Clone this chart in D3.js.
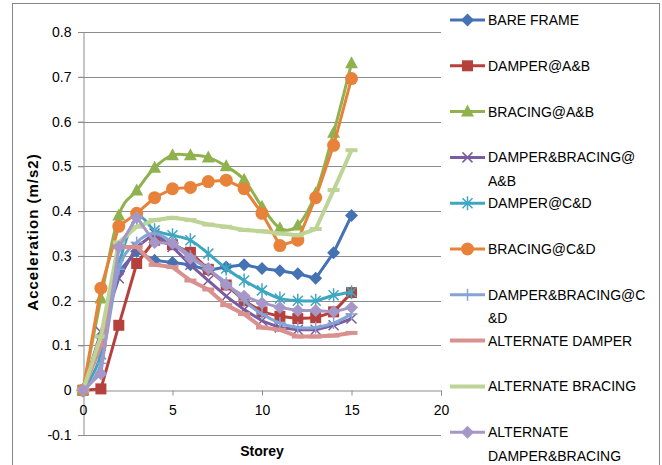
<!DOCTYPE html>
<html>
<head>
<meta charset="utf-8">
<script src="https://cdn.jsdelivr.net/npm/d3@7"></script>
<style>
  body { margin: 0; background: #fff; }
  svg text { font-family: "Liberation Sans", Arial, sans-serif; fill: #000; }
</style>
</head>
<body>
<div id="chart"></div>
<script>
// storeys 0..15
var storeys = d3.range(0, 16);

var bareFrame        = [0, 0.12, 0.265, 0.31, 0.29, 0.285, 0.28, 0.268, 0.275, 0.28, 0.272, 0.267, 0.26, 0.25, 0.307, 0.39];
var damperAB         = [0, 0.003, 0.145, 0.283, 0.335, 0.325, 0.308, 0.27, 0.235, 0.2, 0.175, 0.165, 0.16, 0.162, 0.175, 0.218];
var bracingAB        = [0, 0.205, 0.39, 0.446, 0.497, 0.525, 0.525, 0.52, 0.5, 0.47, 0.41, 0.362, 0.368, 0.44, 0.575, 0.73];
var damperBracingAB  = [0, 0.13, 0.25, 0.32, 0.35, 0.32, 0.28, 0.245, 0.21, 0.18, 0.155, 0.14, 0.135, 0.135, 0.145, 0.16];
var damperCD         = [0, 0.08, 0.28, 0.385, 0.357, 0.346, 0.335, 0.305, 0.272, 0.245, 0.223, 0.205, 0.2, 0.2, 0.212, 0.219];
var bracingCD        = [0, 0.228, 0.366, 0.395, 0.43, 0.45, 0.453, 0.466, 0.469, 0.45, 0.395, 0.323, 0.335, 0.43, 0.547, 0.696];
var damperBracingCD  = [0, 0.06, 0.27, 0.33, 0.35, 0.33, 0.3, 0.27, 0.24, 0.2, 0.17, 0.15, 0.14, 0.14, 0.15, 0.17];
var altDamper        = [0, 0.1, 0.32, 0.32, 0.28, 0.275, 0.245, 0.225, 0.19, 0.17, 0.14, 0.135, 0.12, 0.12, 0.122, 0.128];
var altBracing       = [0, 0.12, 0.33, 0.365, 0.38, 0.385, 0.38, 0.37, 0.365, 0.358, 0.355, 0.35, 0.346, 0.36, 0.447, 0.536];
var altDamperBracing = [0, 0.037, 0.32, 0.386, 0.33, 0.328, 0.295, 0.272, 0.235, 0.21, 0.195, 0.185, 0.178, 0.178, 0.175, 0.185];

var xTicks = [0, 5, 10, 15, 20];
var yTicks = [-0.1, 0, 0.1, 0.2, 0.3, 0.4, 0.5, 0.6, 0.7, 0.8];
var yTickLabels = ["-0.1", "0", "0.1", "0.2", "0.3", "0.4", "0.5", "0.6", "0.7", "0.8"];

var series = [
    {name: ["BARE FRAME"], values: bareFrame, color: "#4572b3", marker: "diamond", smooth: false},
    {name: ["DAMPER@A&B"], values: damperAB, color: "#b5403c", marker: "square", smooth: false},
    {name: ["BRACING@A&B"], values: bracingAB, color: "#8fb24f", marker: "triangle", smooth: true},
    {name: ["DAMPER&BRACING@", "A&B"], values: damperBracingAB, color: "#7a5ca0", marker: "x", smooth: false},
    {name: ["DAMPER@C&D"], values: damperCD, color: "#3ea6c0", marker: "star", smooth: true},
    {name: ["BRACING@C&D"], values: bracingCD, color: "#e8823a", marker: "circle", smooth: false},
    {name: ["DAMPER&BRACING@C", "&D"], values: damperBracingCD, color: "#85a3d4", marker: "plus", smooth: true},
    {name: ["ALTERNATE DAMPER"], values: altDamper, color: "#d8918e", marker: "dash", smooth: false, width: 4},
    {name: ["ALTERNATE BRACING"], values: altBracing, color: "#bdd496", marker: "dash", smooth: false, width: 4},
    {name: ["ALTERNATE", "DAMPER&BRACING"], values: altDamperBracing, color: "#a597c8", marker: "diamond", smooth: false}
];

var svg = d3.select("#chart").append("svg")
    .attr("width", 662)
    .attr("height", 465);

// chart frame
svg.append("rect")
    .attr("x", 12.5).attr("y", 3.5)
    .attr("width", 647).attr("height", 480)
    .attr("fill", "none")
    .attr("stroke", "#868686")
    .attr("stroke-width", 1);

var x = d3.scaleLinear().domain([0, 20]).range([83, 441]);
var y = d3.scaleLinear().domain([-0.1, 0.8]).range([435, 32]);

// gridlines
svg.append("g").selectAll("line")
    .data(yTicks.filter(function(d) { return d != 0; }))
    .enter().append("line")
    .attr("x1", 78).attr("x2", 441)
    .attr("y1", function(d) { return Math.round(y(d)) + 0.5; })
    .attr("y2", function(d) { return Math.round(y(d)) + 0.5; })
    .attr("stroke", "#8c8c8c")
    .attr("stroke-width", 1);

// y axis
var yAxis = d3.axisLeft(y).tickValues(yTicks).tickSize(5).tickPadding(7)
    .tickFormat(function(d, i) { return yTickLabels[i]; });
var gy = svg.append("g").attr("transform", "translate(83.5,0)").call(yAxis);
gy.select(".domain").attr("stroke", "#8c8c8c");
gy.selectAll(".tick line").attr("stroke", "#8c8c8c");
gy.selectAll(".tick text").style("font-size", "14px");

// x axis at y = 0
var xAxis = d3.axisBottom(x).tickValues(xTicks).tickSize(5).tickPadding(10);
var gx = svg.append("g").attr("transform", "translate(0," + (Math.round(y(0)) + 0.5) + ")").call(xAxis);
gx.select(".domain").attr("stroke", "#8c8c8c");
gx.selectAll(".tick line").attr("stroke", "#8c8c8c");
gx.selectAll(".tick text").style("font-size", "14px");

// axis titles
svg.append("text")
    .attr("x", 262).attr("y", 456)
    .attr("text-anchor", "middle")
    .style("font-size", "14px").style("font-weight", "bold")
    .text("Storey");
svg.append("text")
    .attr("transform", "translate(38,232) rotate(-90)")
    .attr("text-anchor", "middle")
    .style("font-size", "15px").style("font-weight", "bold")
    .style("letter-spacing", "1px")
    .text("Acceleration (m/s2)");

// marker drawing
function drawMarker(g, type, color) {
    if (type == "diamond") {
        g.append("path").attr("d", "M0,-6.5L6.5,0L0,6.5L-6.5,0Z").attr("fill", color);
    } else if (type == "square") {
        g.append("rect").attr("x", -5.5).attr("y", -5.5).attr("width", 11).attr("height", 11).attr("fill", color);
    } else if (type == "triangle") {
        g.append("path").attr("d", "M0,-7L6.5,5L-6.5,5Z").attr("fill", color);
    } else if (type == "circle") {
        g.append("circle").attr("r", 6.5).attr("fill", color);
    } else if (type == "x") {
        g.append("path").attr("d", "M-5,-5L5,5M-5,5L5,-5").attr("stroke", color).attr("stroke-width", 1.5).attr("fill", "none");
    } else if (type == "star") {
        g.append("path").attr("d", "M-5,-5L5,5M-5,5L5,-5M0,-7L0,7").attr("stroke", color).attr("stroke-width", 1.5).attr("fill", "none");
    } else if (type == "plus") {
        g.append("path").attr("d", "M0,-6L0,6M-6,0L6,0").attr("stroke", color).attr("stroke-width", 1.5).attr("fill", "none");
    } else if (type == "dash") {
        g.append("path").attr("d", "M-6,0L6,0").attr("stroke", color).attr("stroke-width", 4).attr("fill", "none");
    }
}

var plot = svg.append("g");
series.forEach(function(s) {
    var line = d3.line()
        .x(function(d, i) { return x(storeys[i]); })
        .y(function(d) { return y(d); })
        .curve(s.smooth ? d3.curveCatmullRom.alpha(0) : d3.curveLinear);
    var g = plot.append("g");
    g.append("path")
        .datum(s.values)
        .attr("d", line)
        .attr("fill", "none")
        .attr("stroke", s.color)
        .attr("stroke-width", s.width || 3)
        .attr("stroke-linejoin", "round");
    g.selectAll(".m").data(s.values).enter().append("g")
        .attr("transform", function(d, i) { return "translate(" + x(storeys[i]) + "," + y(d) + ")"; })
        .each(function() { drawMarker(d3.select(this), s.marker, s.color); });
});

// legend
var legend = svg.append("g");
series.forEach(function(s, i) {
    var cy = 20 + i * 45.8;
    var lg = legend.append("g").attr("transform", "translate(0," + cy + ")");
    lg.append("line")
        .attr("x1", 450).attr("x2", 485)
        .attr("y1", 0).attr("y2", 0)
        .attr("stroke", s.color)
        .attr("stroke-width", s.width || 3);
    var mg = lg.append("g").attr("transform", "translate(467.5,0)");
    if (s.marker != "dash") drawMarker(mg, s.marker, s.color);
    s.name.forEach(function(t, j) {
        lg.append("text")
            .attr("x", 488).attr("y", 5 + j * 23.5)
            .style("font-size", "14px")
            .text(t);
    });
});
</script>
</body>
</html>
